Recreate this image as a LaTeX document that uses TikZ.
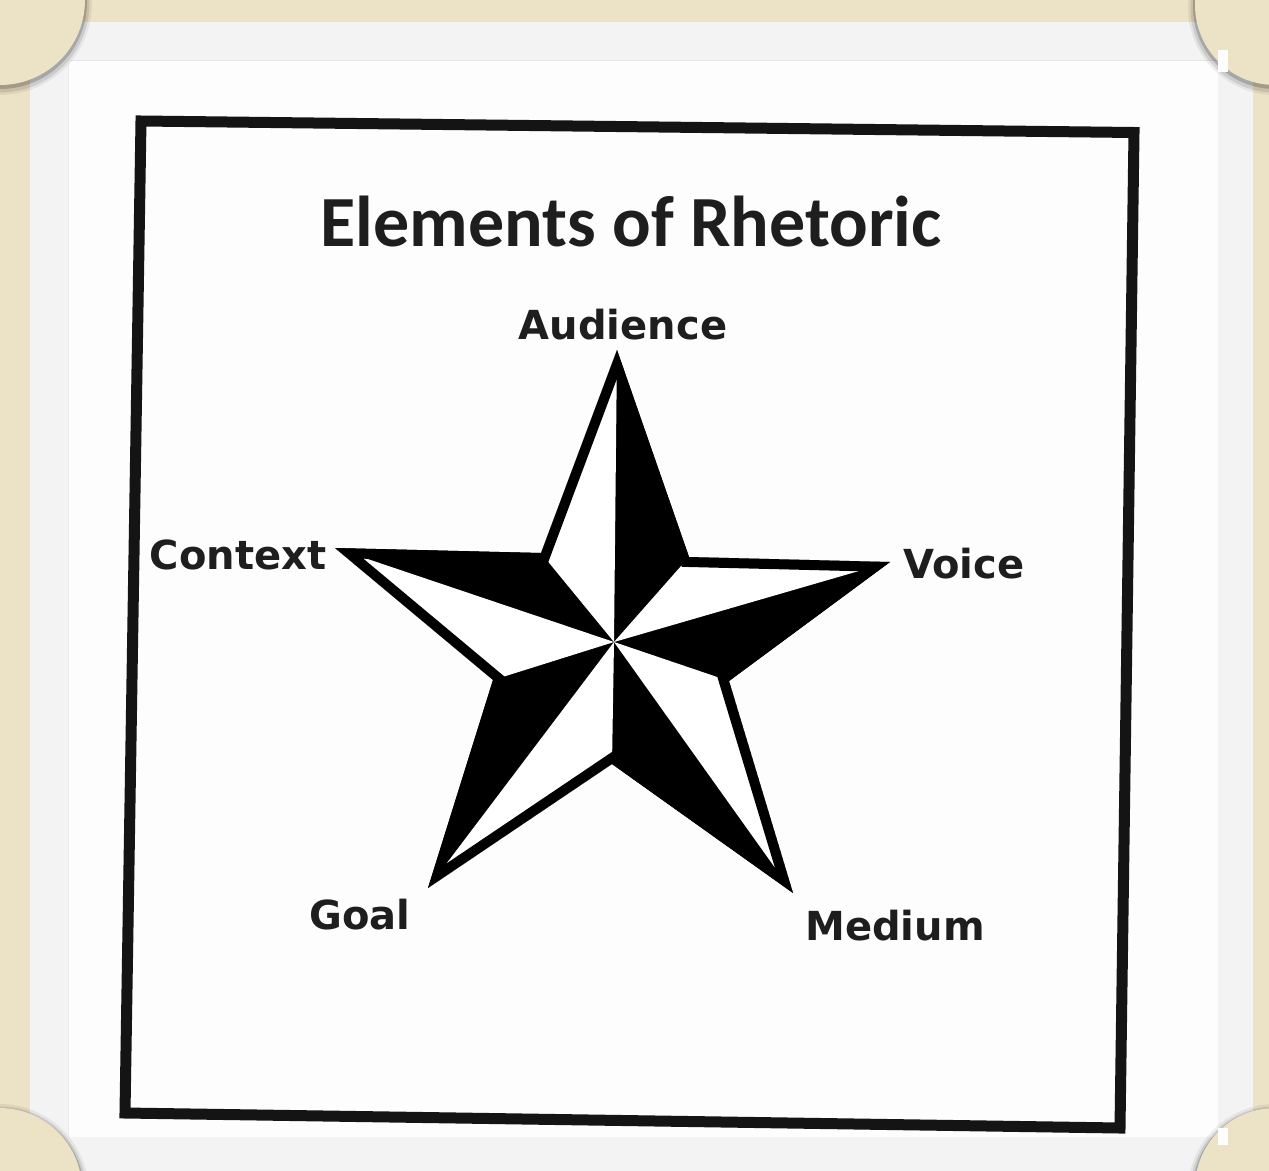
\documentclass[tikz,border=0pt]{standalone}
\usepackage{fontspec}
\newfontfamily\titlefont{Carlito}
\newfontfamily\labelfont{DejaVu Sans}
\definecolor{beige}{RGB}{236,226,198}
\definecolor{framegray}{RGB}{243,243,243}
\definecolor{paper}{RGB}{253,253,253}
\definecolor{txt}{RGB}{30,30,30}
\definecolor{rectline}{RGB}{20,20,20}
\begin{document}
\begin{tikzpicture}[x=1pt,y=-1pt,
  lbl/.style={font=\labelfont\bfseries\fontsize{40}{44}\selectfont, text=txt, inner sep=0pt, anchor=base},
  ttl/.style={font=\titlefont\bfseries\fontsize{72}{80}\selectfont, text=txt, inner sep=0pt, anchor=base},
  photocorner/.style={fill=beige},
  cornershadow/.style={fill=black}]
\useasboundingbox (0,0) rectangle (1269,1170);
% background and photo frame
\fill[beige] (0,0) rectangle (1269,1170);
\fill[framegray] (30,22) rectangle (1253,1175);
\fill[paper] (68,60) rectangle (1218,1137);
\draw[black!10, line width=0.8] (68,60) -- (1218,60);
\draw[black!8, line width=0.8] (68,60) -- (68,1137);
% photo corners with soft shadow
\foreach \cx/\cy/\r in {0/0/85, 1275/5/80, 0/1190/82, 1275/1188/80}{
  \fill[cornershadow, opacity=0.06] (\cx,\cy+3) circle (\r+7);
  \fill[cornershadow, opacity=0.10] (\cx,\cy+3) circle (\r+4.5);
  \fill[cornershadow, opacity=0.18] (\cx,\cy+2) circle (\r+2);
  \fill[photocorner] (\cx,\cy) circle (\r);
}
\fill[paper] (1218,50) rectangle (1228,72);
\fill[paper] (1218,1128) rectangle (1228,1145);
% black border
\draw[rectline, line width=11, line join=miter] (141,121) -- (1134,132.5) -- (1120,1128) -- (125,1113) -- cycle;
% title
\node[ttl] (title) at (631,246) {Elements of Rhetoric};
% star
\coordinate (T) at (617,350);
\coordinate (R) at (890,562);
\coordinate (BR) at (793,893);
\coordinate (BL) at (428,888);
\coordinate (L) at (335,548);
\coordinate (ITR) at (689,557);
\coordinate (IR) at (729,681);
\coordinate (IB) at (612,764);
\coordinate (IBL) at (493,680);
\coordinate (ITL) at (541,553);
\coordinate (O) at (614,642);
\fill[black] (T)--(ITR)--(R)--(IR)--(BR)--(IB)--(BL)--(IBL)--(L)--(ITL)--cycle;
\begin{scope}
  \clip (T)--(ITR)--(R)--(IR)--(BR)--(IB)--(BL)--(IBL)--(L)--(ITL)--cycle;
  \fill[white] (T)--(ITL)--(O)--cycle;
  \fill[white] (R)--(ITR)--(O)--cycle;
  \fill[white] (BR)--(IR)--(O)--cycle;
  \fill[white] (BL)--(IB)--(O)--cycle;
  \fill[white] (L)--(IBL)--(O)--cycle;
  \draw[black, line width=20, line join=miter] (T)--(ITR)--(R)--(IR)--(BR)--(IB)--(BL)--(IBL)--(L)--(ITL)--cycle;
\end{scope}
% labels
\node[lbl] (audience) at (623,339) {Audience};
\node[lbl] (context) at (238,569) {Context};
\node[lbl] (voice) at (964,578) {Voice};
\node[lbl] (goal) at (360,929) {Goal};
\node[lbl] (medium) at (895,940) {Medium};
\end{tikzpicture}
\end{document}
